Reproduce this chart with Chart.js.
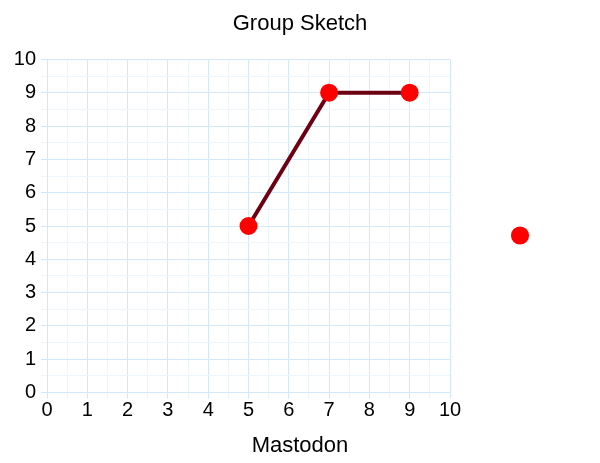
<!DOCTYPE html>
<html>
<head>
<meta charset="utf-8">
<script src="https://cdn.jsdelivr.net/npm/chart.js@4/dist/chart.umd.min.js"></script>
<style>
  html, body { margin: 0; padding: 0; background: #fff; }
  #wrap { width: 600px; height: 463px; }
</style>
</head>
<body>
<div id="wrap"><canvas id="sketchChart"></canvas></div>
<script>
// values
const xValues = [5, 7, 9];
const yValues = [5, 9, 9];
const axisMin = 0;
const axisMax = 10;
const chartTitle = "Group Sketch";
const xTitle = "Mastodon";

const majorGrid = "#d3e8f8";
const minorGrid = "#eef6fd";
const family = "'Liberation Sans', Arial, sans-serif";
const tickFont = { family: family, size: 20 };
const titleFont = { family: family, size: 22, weight: "normal" };

function gridColor(ctx) {
    return Number.isInteger(ctx.tick.value) ? majorGrid : minorGrid;
}

function intLabel(value) {
    return Number.isInteger(value) ? String(value) : "";
}

function makeAxis(pad) {
    return {
        type: "linear",
        min: axisMin,
        max: axisMax,
        border: { color: majorGrid },
        grid: { color: gridColor, tickColor: gridColor, tickLength: 6 },
        ticks: {
            stepSize: 0.5, autoSkip: false, maxRotation: 0, minRotation: 0,
            color: "#000", font: tickFont, padding: pad, callback: intLabel,
        },
    };
}

const xAxis = makeAxis(0);
const yAxis = makeAxis(5);
// y axis takes a fixed band on the left
yAxis.afterFit = function (scale) { scale.width = 47; };

new Chart(document.getElementById("sketchChart"), {
    type: "scatter",
    data: {
        datasets: [{
            label: "",
            data: xValues.map((x, i) => ({ x: x, y: yValues[i] })),
            showLine: true,
            borderColor: "#6e0014",
            borderWidth: 4,
            backgroundColor: "#ff0000",
            pointBackgroundColor: "#ff0000",
            pointBorderColor: "#ff0000",
            pointRadius: 7,
            pointHoverRadius: 7,
        }],
    },
    options: {
        responsive: true,
        maintainAspectRatio: false,
        animation: false,
        layout: { padding: { top: 0, right: 0, bottom: 4, left: 0 } },
        plugins: {
            title: {
                display: true,
                text: chartTitle,
                color: "#000",
                font: titleFont,
                padding: { top: 11, bottom: 22 },
            },
            // x axis name sits centred on the whole canvas, like the original
            subtitle: {
                display: true,
                position: "bottom",
                text: xTitle,
                color: "#000",
                font: titleFont,
                padding: { top: 10, bottom: 0 },
            },
            legend: {
                position: "right",
                maxWidth: 200,
                title: { display: true, text: "", font: { size: 5 }, padding: 3 },
                // empty label: the big font size only reserves room for the legend column
                labels: {
                    usePointStyle: true, pointStyle: "circle",
                    boxWidth: 10, boxHeight: 10, padding: 65,
                    font: { size: 130 },
                },
            },
            tooltip: { enabled: false },
        },
        scales: { x: xAxis, y: yAxis },
    },
});
</script>
</body>
</html>
